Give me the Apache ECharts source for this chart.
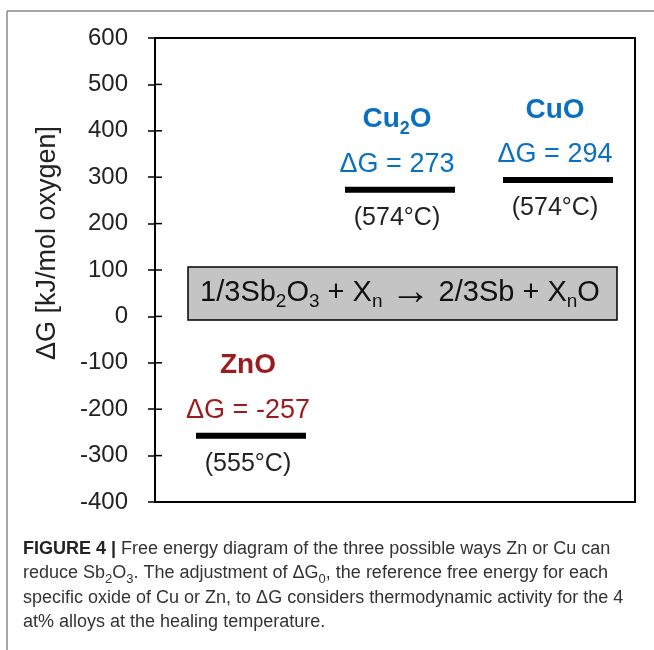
<!DOCTYPE html>
<html>
<head>
<meta charset="utf-8">
<script src="https://cdn.jsdelivr.net/npm/echarts@6/dist/echarts.min.js"></script>
<style>
  html, body { margin: 0; padding: 0; background: #ffffff; }
  #chart { width: 654px; height: 650px; }
</style>
</head>
<body>
<div id="chart"></div>
<script>
// Free energy levels of the oxides formed when Zn or Cu reduces Sb2O3
const oxides = ['ZnO', 'Cu2O', 'CuO'];
const deltaG = [-257, 273, 294];               // kJ/mol oxygen
const temperatures = ['555°C', '574°C', '574°C'];

// y axis ticks
const yTicks = [-400, -300, -200, -100, 0, 100, 200, 300, 400, 500, 600];
const yTitle = 'ΔG [kJ/mol oxygen]';

// Horizontal placement of each level on the hidden x axis (0..480)
const plotWidth = 480;
const levelCenterX = [96, 245, 403];
const levelHalfWidth = 55;
const oxideColors = ['#9A1C1F', '#0B6FC0', '#0B6FC0'];
const tickLength = 7;

const FONT = "'Liberation Sans', Arial, Helvetica, sans-serif";

// Turn digits in a formula into rich-text subscripts
function subscriptDigits(s) {
  return s.replace(/(\d)/g, '{s|$1}');
}

function renderLevel(params, api) {
  const i = params.dataIndex;
  const xc = api.value(0);
  const v = api.value(1);
  const a = api.coord([xc - levelHalfWidth, v]);
  const b = api.coord([xc + levelHalfWidth, v]);
  const c = api.coord([xc, v]);
  const tx = c[0] - 3;
  const color = oxideColors[i];
  return {
    type: 'group',
    children: [
      {
        type: 'line',
        shape: { x1: a[0], y1: a[1], x2: b[0], y2: b[1] },
        style: { stroke: '#000', lineWidth: 6 }
      },
      {
        type: 'text',
        x: tx,
        y: c[1] - 70,
        style: {
          text: subscriptDigits(oxides[i]),
          fill: color,
          fontFamily: FONT,
          fontSize: 28,
          fontWeight: 'bold',
          lineHeight: 36,
          align: 'center',
          verticalAlign: 'middle',
          rich: {
            s: { fontFamily: FONT, fontSize: 18, fontWeight: 'bold', fill: color, lineHeight: 18, verticalAlign: 'bottom' }
          }
        }
      },
      {
        type: 'text',
        x: tx,
        y: c[1] - 25,
        style: {
          text: 'ΔG = ' + v,
          fill: color,
          fontFamily: FONT,
          fontSize: 27,
          align: 'center',
          verticalAlign: 'middle'
        }
      },
      {
        type: 'text',
        x: tx,
        y: c[1] + 28,
        style: {
          text: '(' + temperatures[i] + ')',
          fill: '#222',
          fontFamily: FONT,
          fontSize: 25,
          align: 'center',
          verticalAlign: 'middle'
        }
      }
    ]
  };
}

// Inner half of each axis tick, so the ticks cross the axis line
function renderInnerTick(params, api) {
  const p = api.coord([0, api.value(1)]);
  return {
    type: 'line',
    shape: { x1: p[0], y1: p[1], x2: p[0] + tickLength, y2: p[1] },
    style: { stroke: '#000', lineWidth: 1.5 }
  };
}

const captionMain = { fontFamily: FONT, fontSize: 18, fill: '#333', lineHeight: 24 };
const captionRich = {
  b: { fontFamily: FONT, fontSize: 18, fontWeight: 'bold', fill: '#222', lineHeight: 24 },
  s: { fontFamily: FONT, fontSize: 13, fill: '#333', lineHeight: 13, verticalAlign: 'bottom' }
};
const captionLines = [
  '{b|FIGURE 4 |} Free energy diagram of the three possible ways Zn or Cu can',
  'reduce Sb{s|2}O{s|3}. The adjustment of ΔG{s|0}, the reference free energy for each',
  'specific oxide of Cu or Zn, to ΔG considers thermodynamic activity for the 4',
  'at% alloys at the healing temperature.'
];
const captionY = [549, 573.5, 598, 622];

const graphic = [
  // figure frame (top and left edges)
  { type: 'line', shape: { x1: 7, y1: 11, x2: 654, y2: 11 }, style: { stroke: '#8a8a8a', lineWidth: 1.5 } },
  { type: 'line', shape: { x1: 7, y1: 11, x2: 7, y2: 650 }, style: { stroke: '#8a8a8a', lineWidth: 1.5 } },
  // y axis title
  {
    type: 'text',
    x: 48,
    y: 243,
    rotation: Math.PI / 2,
    style: {
      text: yTitle,
      fill: '#222',
      fontFamily: FONT,
      fontSize: 27,
      align: 'center',
      verticalAlign: 'middle'
    }
  },
  // reaction box
  {
    type: 'rect',
    z: 5,
    shape: { x: 188, y: 267, width: 429, height: 53 },
    style: { fill: '#C4C4C4', stroke: '#000', lineWidth: 1.5 }
  },
  {
    type: 'text',
    z: 6,
    x: 400,
    y: 293,
    style: {
      text: '1/3Sb{s|2}O{s|3} + X{s|n} {a|→} 2/3Sb + X{s|n}O',
      fill: '#111',
      fontFamily: FONT,
      fontSize: 29,
      lineHeight: 36,
      align: 'center',
      verticalAlign: 'middle',
      rich: {
        s: { fontFamily: FONT, fontSize: 19, fill: '#111', lineHeight: 19, verticalAlign: 'bottom' },
        a: { fontFamily: FONT, fontSize: 40, fill: '#111', lineHeight: 36, verticalAlign: 'middle' }
      }
    }
  }
];
captionLines.forEach(function (line, k) {
  graphic.push({
    type: 'text',
    x: 23,
    y: captionY[k],
    style: Object.assign({}, captionMain, {
      text: line,
      align: 'left',
      verticalAlign: 'middle',
      rich: captionRich
    })
  });
});

const yMin = yTicks[0];
const yMax = yTicks[yTicks.length - 1];
const yStep = yTicks[1] - yTicks[0];

const chart = echarts.init(document.getElementById('chart'), null, { renderer: 'canvas' });
chart.setOption({
  animation: false,
  backgroundColor: '#ffffff',
  grid: {
    left: 155, right: 19, top: 38, bottom: 148,
    show: true, borderColor: '#000', borderWidth: 2, backgroundColor: 'transparent'
  },
  xAxis: { type: 'value', min: 0, max: plotWidth, show: false },
  yAxis: {
    type: 'value',
    position: 'left',
    min: yMin, max: yMax, interval: yStep,
    axisLine: { show: true, lineStyle: { color: '#000', width: 2 } },
    axisTick: { show: true, length: tickLength, lineStyle: { color: '#000', width: 1.5 } },
    axisLabel: { fontFamily: FONT, fontSize: 24, color: '#222', margin: 27 },
    splitLine: { show: false }
  },
  series: [
    {
      type: 'custom',
      clip: false,
      silent: true,
      data: yTicks.map(function (v) { return [0, v]; }),
      renderItem: renderInnerTick
    },
    {
      type: 'custom',
      clip: false,
      data: deltaG.map(function (v, i) { return [levelCenterX[i], v]; }),
      renderItem: renderLevel
    }
  ],
  graphic: graphic
});
</script>
</body>
</html>
